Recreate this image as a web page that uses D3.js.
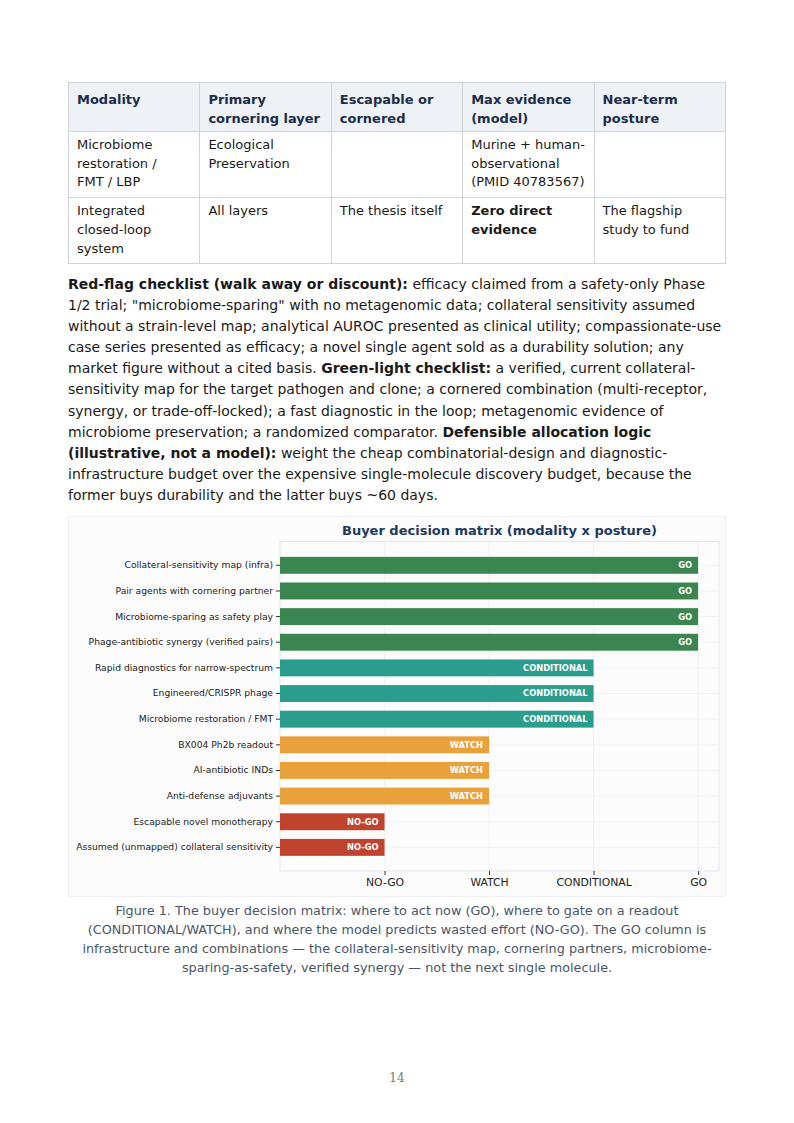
<!DOCTYPE html>
<html><head><meta charset="utf-8">
<script src="https://cdn.jsdelivr.net/npm/d3@7"></script>
<style>
html,body{margin:0;padding:0;background:#fff;}
body{width:794px;height:1123px;position:relative;font-family:"DejaVu Sans",sans-serif;overflow:hidden;}
.tbl{position:absolute;left:68px;top:82px;width:658px;table-layout:fixed;border-collapse:collapse;font-size:13px;line-height:18.7px;color:#1a1a1a;}
.tbl td,.tbl th{border:1px solid #cfd4db;vertical-align:top;text-align:left;padding:4px 8px 5px 8px;}
.tbl th{background:#eef2f7;color:#1c2d4a;font-weight:bold;padding-top:7px;padding-bottom:3px;line-height:19px;}
.para{position:absolute;left:68px;top:274px;font-size:14px;line-height:21.1px;color:#1a1a1a;white-space:nowrap;}
.cap{position:absolute;left:68px;width:658px;top:901px;font-size:12.8px;line-height:19px;color:#4a5568;text-align:center;white-space:nowrap;}
.pg{position:absolute;left:0;width:794px;top:1071px;text-align:center;font-family:"DejaVu Serif",serif;font-size:12px;color:#777;}
svg{position:absolute;left:0;top:0;}
</style></head>
<body>
<table class="tbl">
<tr><th>Modality</th><th>Primary<br>cornering layer</th><th>Escapable or<br>cornered</th><th>Max evidence<br>(model)</th><th>Near-term<br>posture</th></tr>
<tr><td>Microbiome<br>restoration /<br>FMT / LBP</td><td>Ecological<br>Preservation</td><td></td><td>Murine + human-<br>observational<br>(PMID 40783567)</td><td></td></tr>
<tr><td>Integrated<br>closed-loop<br>system</td><td>All layers</td><td>The thesis itself</td><td><b>Zero direct<br>evidence</b></td><td>The flagship<br>study to fund</td></tr>
</table>
<div class="para" id="para"></div>
<svg id="chart" width="794" height="1123"></svg>
<div class="cap">Figure 1. The buyer decision matrix: where to act now (GO), where to gate on a readout<br>(CONDITIONAL/WATCH), and where the model predicts wasted effort (NO-GO). The GO column is<br>infrastructure and combinations — the collateral-sensitivity map, cornering partners, microbiome-<br>sparing-as-safety, verified synergy — not the next single molecule.</div>
<div class="pg">14</div>
<script>
// ---- paragraph lines (text, bold flag) ----
const paraLines = [
 [["Red-flag checklist (walk away or discount):",1],[" efficacy claimed from a safety-only Phase",0]],
 [["1/2 trial; \"microbiome-sparing\" with no metagenomic data; collateral sensitivity assumed",0]],
 [["without a strain-level map; analytical AUROC presented as clinical utility; compassionate-use",0]],
 [["case series presented as efficacy; a novel single agent sold as a durability solution; any",0]],
 [["market figure without a cited basis. ",0],["Green-light checklist:",1],[" a verified, current collateral-",0]],
 [["sensitivity map for the target pathogen and clone; a cornered combination (multi-receptor,",0]],
 [["synergy, or trade-off-locked); a fast diagnostic in the loop; metagenomic evidence of",0]],
 [["microbiome preservation; a randomized comparator. ",0],["Defensible allocation logic",1]],
 [["(illustrative, not a model):",1],[" weight the cheap combinatorial-design and diagnostic-",0]],
 [["infrastructure budget over the expensive single-molecule discovery budget, because the",0]],
 [["former buys durability and the latter buys ~60 days.",0]]
];
const para = d3.select("#para");
paraLines.forEach(l => {
  const div = para.append("div");
  l.forEach(s => div.append("span").style("font-weight", s[1] ? "bold" : "normal").text(s[0]));
});

// ---- chart data ----
const categories = [
 "Collateral-sensitivity map (infra)",
 "Pair agents with cornering partner",
 "Microbiome-sparing as safety play",
 "Phage-antibiotic synergy (verified pairs)",
 "Rapid diagnostics for narrow-spectrum",
 "Engineered/CRISPR phage",
 "Microbiome restoration / FMT",
 "BX004 Ph2b readout",
 "AI-antibiotic INDs",
 "Anti-defense adjuvants",
 "Escapable novel monotherapy",
 "Assumed (unmapped) collateral sensitivity"
];
const postures = ["GO","GO","GO","GO","CONDITIONAL","CONDITIONAL","CONDITIONAL","WATCH","WATCH","WATCH","NO-GO","NO-GO"];
const tickLabels = ["NO-GO","WATCH","CONDITIONAL","GO"];
const tickValues = [1,2,3,4];
const postureColors = {"GO":"#3b8650","CONDITIONAL":"#2a9d8c","WATCH":"#e9a23b","NO-GO":"#c0432f"};

const svg = d3.select("#chart");
// figure panel
svg.append("rect").attr("x",68.5).attr("y",516.5).attr("width",657).attr("height",380)
  .attr("fill","#fcfcfd").attr("stroke","#eef0f3");

const x = d3.scaleLinear().domain([0,4.2]).range([280,719]);
const y = d3.scaleBand().domain(categories).range([552.5,860.2]).paddingInner(0.34).paddingOuter(0.17);
const plotTop = 541.5, plotBot = 871;

svg.append("rect").attr("x",280).attr("y",plotTop).attr("width",439).attr("height",plotBot-plotTop)
  .attr("fill","#fcfcfd").attr("stroke","#e3e6ea");

// gridlines
svg.append("g").selectAll("line").data(tickValues).join("line")
  .attr("x1",d=>x(d)).attr("x2",d=>x(d)).attr("y1",plotTop).attr("y2",plotBot)
  .attr("stroke","#ebedf0").attr("stroke-width",0.8);
svg.append("g").selectAll("line").data(categories).join("line")
  .attr("x1",280).attr("x2",719).attr("y1",d=>y(d)+y.bandwidth()/2).attr("y2",d=>y(d)+y.bandwidth()/2)
  .attr("stroke","#ebedf0").attr("stroke-width",0.8);

const val = p => tickValues[tickLabels.indexOf(p)];
svg.append("g").selectAll("rect").data(categories).join("rect")
  .attr("x",x(0)).attr("y",d=>y(d)).attr("height",y.bandwidth())
  .attr("width",(d,i)=>x(val(postures[i]))-x(0))
  .attr("fill",(d,i)=>postureColors[postures[i]]);
svg.append("g").selectAll("text").data(categories).join("text")
  .attr("x",(d,i)=>x(val(postures[i]))-6).attr("y",d=>y(d)+y.bandwidth()/2).attr("dy","0.35em")
  .attr("text-anchor","end").attr("fill","#fff").attr("font-weight","bold").attr("font-size",8.3)
  .attr("font-family","DejaVu Sans").text((d,i)=>postures[i]);

// axes
const yAxis = svg.append("g").attr("transform","translate(280,0)")
  .call(d3.axisLeft(y).tickSize(4).tickPadding(3));
yAxis.select(".domain").remove();
yAxis.selectAll("text").attr("font-size",9.2).attr("font-family","DejaVu Sans").attr("fill","#222");
yAxis.selectAll("line").attr("stroke","#333");

const xAxis = svg.append("g").attr("transform",`translate(0,${plotBot})`)
  .call(d3.axisBottom(x).tickValues(tickValues).tickFormat((d,i)=>tickLabels[i]).tickSize(4).tickPadding(3));
xAxis.select(".domain").remove();
xAxis.selectAll("text").attr("font-size",10.8).attr("font-family","DejaVu Sans").attr("fill","#222");
xAxis.selectAll("line").attr("stroke","#333");

svg.append("text").attr("x",499.5).attr("y",535).attr("text-anchor","middle")
  .attr("font-family","DejaVu Sans").attr("font-weight","bold").attr("font-size",13).attr("fill","#22395c")
  .text("Buyer decision matrix (modality x posture)");
</script>
</body></html>
